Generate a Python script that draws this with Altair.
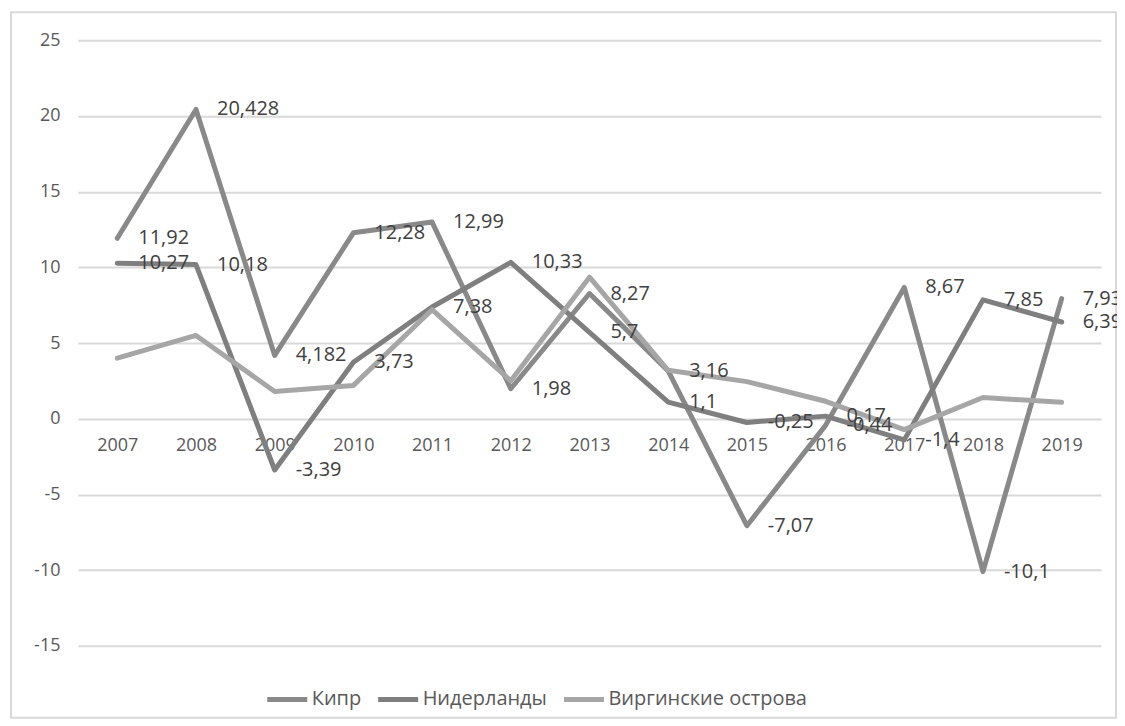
import altair as alt
import pandas as pd

years = [str(y) for y in range(2007, 2020)]
series_names = ["Кипр", "Нидерланды", "Виргинские острова"]
cyprus = [11.92, 20.428, 4.182, 12.28, 12.99, 1.98, 8.27, 3.16, -7.07, -0.44, 8.67, -10.1, 7.93]
netherlands = [10.27, 10.18, -3.39, 3.73, 7.38, 10.33, 5.7, 1.1, -0.25, 0.17, -1.4, 7.85, 6.39]
virgin = [4.0, 5.5, 1.8, 2.2, 7.2, 2.5, 9.35, 3.2, 2.45, 1.15, -0.72, 1.4, 1.08]
labeled = [True, True, False]
colors = ["#898989", "#7f7f7f", "#a6a6a6"]
y_ticks = [-15, -10, -5, 0, 5, 10, 15, 20, 25]

rows = []
for k, (name, vals) in enumerate(zip(series_names, [cyprus, netherlands, virgin])):
    for yr, v in zip(years, vals):
        rows.append({
            "year": yr,
            "value": v,
            "series": name,
            "ord": k,
            "label": str(v).replace(".", ",") if labeled[k] else "",
        })
df = pd.DataFrame(rows)

FONT = "Open Sans"

x_enc = alt.X(
    "year:N",
    sort=years,
    scale=alt.Scale(type="point", padding=0.5),
    axis=alt.Axis(
        title=None, orient="bottom", offset=-227.25, domain=False, ticks=False,
        labelPadding=18, labelAngle=0, grid=False,
        labelFont=FONT, labelFontSize=18, labelColor="#595959",
    ),
)
y_enc = alt.Y(
    "value:Q",
    scale=alt.Scale(domain=[-15, 25], nice=False, zero=False),
    axis=alt.Axis(
        values=y_ticks, title=None, domain=False, ticks=False, labelPadding=18,
        gridColor="#d9d9d9", gridWidth=2, labelExpr="'' + datum.value",
        labelFont=FONT, labelFontSize=18, labelColor="#595959",
    ),
)

base = alt.Chart(df)

lines = base.mark_line(strokeWidth=5, strokeJoin="round", strokeCap="round").encode(
    x=x_enc,
    y=y_enc,
    color=alt.Color(
        "series:N",
        sort=series_names,
        scale=alt.Scale(domain=series_names, range=colors),
        legend=alt.Legend(
            orient="none", legendX=187, legendY=637, direction="horizontal",
            title=None, symbolType="stroke", symbolSize=1600, symbolStrokeWidth=5,
            labelFont=FONT, labelFontSize=20, labelColor="#595959", labelLimit=0,
            columnPadding=6, labelOffset=2,
        ),
    ),
    order=alt.Order("ord:Q"),
)

labels = base.transform_filter("datum.label != ''").mark_text(
    align="left", baseline="middle", dx=21, font=FONT, fontSize=20, color="#404040"
).encode(
    x=alt.X("year:N", sort=years, scale=alt.Scale(type="point", padding=0.5)),
    y=alt.Y("value:Q"),
    text="label:N",
)

frame = alt.Chart(pd.DataFrame({"a": [0]})).mark_rect(
    filled=False, stroke="#d9d9d9", strokeWidth=2
).encode(
    x=alt.value(-67), x2=alt.value(1039), y=alt.value(-28), y2=alt.value(678)
)

chart = alt.layer(frame, lines, labels).properties(
    width=1024,
    height=606,
    autosize="none",
    padding={"left": 70, "top": 32, "right": 16, "bottom": 74},
).configure_view(strokeWidth=0)

chart.save("out.html", embed_options={"renderer": "svg", "actions": False})
